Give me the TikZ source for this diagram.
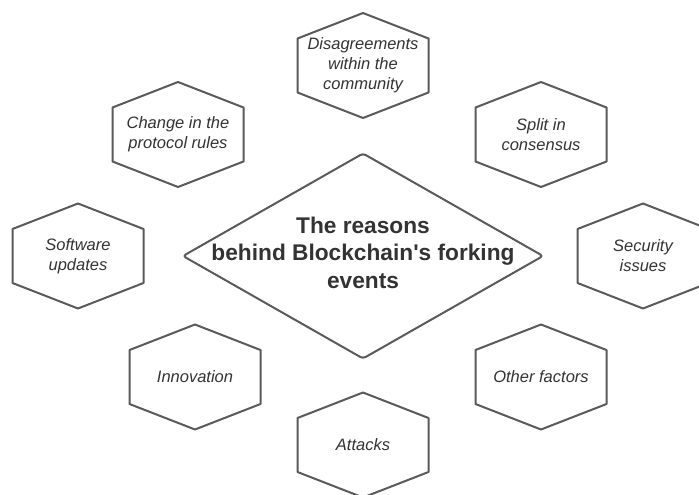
\documentclass[tikz,border=0pt]{standalone}
\usepackage{fontspec}
\setmainfont{Liberation Sans}
\definecolor{linegray}{HTML}{5A5A5A}
\definecolor{textgray}{HTML}{333333}
\tikzset{
  hexline/.style={draw=linegray, line width=2pt, line join=round},
  hextext/.style={font=\fontsize{16.5}{19.8}\selectfont\itshape, text=textgray, align=center, inner sep=0pt},
  centertext/.style={font=\fontsize{22.7}{27.5}\selectfont\bfseries, text=textgray, align=center, inner sep=0pt},
}
\begin{document}
\begin{tikzpicture}[x=1pt,y=-1pt]
\useasboundingbox (0,0) rectangle (699,495);
\clip (0,0) rectangle (699,495);
\fill[white] (0,0) rectangle (699,495);
% diamond
\coordinate (dc) at (363,256);
\node[centertext] (c) at (363,252.5) {The reasons\\behind Blockchain\textquotesingle s forking\\events};
\draw[hexline, rounded corners=3pt] ([shift={(0,-102.5)}]dc) -- ([shift={(180,0)}]dc) -- ([shift={(0,102.5)}]dc) -- ([shift={(-180,0)}]dc) -- cycle;
% hexagons
\node[hextext] (dis) at (363,65.5) {Disagreements\\within the\\community};
\node[hextext] (chg) at (178,134.5) {Change in the\\protocol rules};
\node[hextext] (spl) at (541,134.5) {Split in\\consensus};
\node[hextext] (sw) at (78,256) {Software\\updates};
\node[hextext] (sec) at (643,256) {Security\\issues};
\node[hextext] (inn) at (195,377) {Innovation};
\node[hextext] (oth) at (541,377) {Other factors};
\node[hextext] (att) at (363,445) {Attacks};
\foreach \n in {dis,chg,spl,sw,sec,inn,oth,att}
  \draw[hexline] ([shift={(0,-52.5)}]\n.center) -- ([shift={(65.5,-27)}]\n.center) -- ([shift={(65.5,27)}]\n.center) -- ([shift={(0,52.5)}]\n.center) -- ([shift={(-65.5,27)}]\n.center) -- ([shift={(-65.5,-27)}]\n.center) -- cycle;
\end{tikzpicture}
\end{document}
